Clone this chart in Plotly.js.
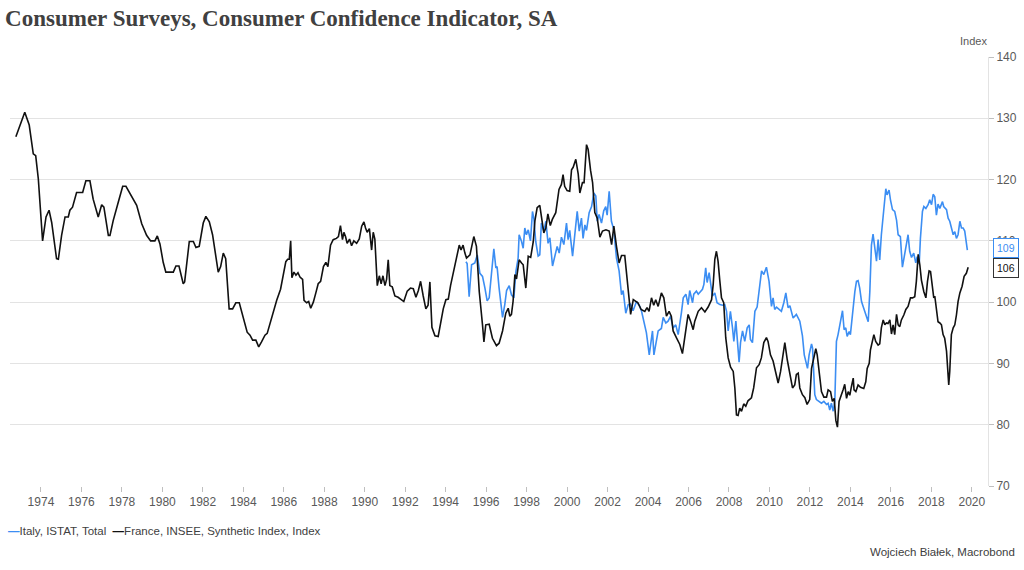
<!DOCTYPE html>
<html>
<head>
<meta charset="utf-8">
<script src="https://cdn.plot.ly/plotly-3.0.1.min.js"></script>
<style>
html,body{margin:0;padding:0;background:#fff;}
#chart{width:1024px;height:570px;}
</style>
</head>
<body>
<div id="chart"></div>
<script>
// France, INSEE, Synthetic Index (decimal years)
const franceYears = [
1972.76,1973.2,1973.42,1973.62,1973.74,1973.87,1974.08,1974.25,1974.4,1974.53,1974.77,1974.86,
1975.02,1975.19,1975.35,1975.43,1975.56,1975.76,1976.06,1976.22,1976.42,1976.58,1976.83,1977.0,
1977.11,1977.33,1977.41,1977.57,1977.82,1978.04,1978.2,1978.4,1978.56,1978.73,1978.98,1979.22,
1979.42,1979.63,1979.75,1979.88,1980.04,1980.17,1980.54,1980.67,1980.82,1981.03,1981.1,1981.33,
1981.53,1981.66,1981.82,1982.02,1982.15,1982.32,1982.48,1982.65,1982.76,1982.88,1983.01,1983.13,
1983.3,1983.47,1983.63,1983.8,1984.0,1984.19,1984.33,1984.46,1984.62,1984.76,1984.9,1985.07,
1985.18,1985.4,1985.65,1985.84,1985.97,1986.1,1986.19,1986.27,1986.34,1986.4,1986.5,1986.6,
1986.7,1986.8,1986.93,1987.0,1987.13,1987.23,1987.33,1987.46,1987.59,1987.7,1987.82,1987.96,
1988.08,1988.18,1988.31,1988.44,1988.6,1988.7,1988.8,1988.9,1988.97,1989.05,1989.13,1989.25,
1989.35,1989.46,1989.6,1989.73,1989.85,1989.96,1990.04,1990.12,1990.23,1990.34,1990.42,1990.5,
1990.62,1990.72,1990.81,1990.9,1991.0,1991.08,1991.16,1991.24,1991.36,1991.49,1991.65,1991.82,
1991.93,1992.1,1992.26,1992.4,1992.53,1992.65,1992.76,1992.89,1993.02,1993.13,1993.22,1993.32,
1993.47,1993.63,1993.75,1993.88,1994.01,1994.13,1994.24,1994.37,1994.54,1994.67,1994.76,1994.86,
1994.95,1995.03,1995.2,1995.39,1995.52,1995.66,1995.82,1995.89,1995.98,1996.15,1996.31,1996.51,
1996.64,1996.81,1996.97,1997.09,1997.17,1997.25,1997.33,1997.42,1997.5,1997.63,1997.75,1997.83,
1997.96,1998.08,1998.2,1998.33,1998.41,1998.52,1998.65,1998.74,1998.85,1998.95,1999.05,1999.17,
1999.27,1999.44,1999.6,1999.72,1999.8,1999.88,2000.0,2000.13,2000.22,2000.3,2000.43,2000.55,
2000.63,2000.76,2000.84,2000.96,2001.04,2001.16,2001.26,2001.37,2001.49,2001.62,2001.75,2001.92,
2002.08,2002.2,2002.31,2002.44,2002.57,2002.69,2002.85,2003.02,2003.14,2003.27,2003.4,2003.5,
2003.66,2003.84,2003.95,2004.05,2004.17,2004.28,2004.38,2004.5,2004.66,2004.78,2004.91,2005.04,
2005.15,2005.24,2005.4,2005.57,2005.7,2005.81,2005.98,2006.1,2006.23,2006.31,2006.48,2006.64,
2006.81,2006.97,2007.14,2007.22,2007.3,2007.38,2007.46,2007.55,2007.63,2007.74,2007.84,2007.96,
2008.08,2008.21,2008.29,2008.37,2008.45,2008.53,2008.62,2008.73,2008.83,2008.94,2009.11,2009.22,
2009.36,2009.49,2009.6,2009.72,2009.85,2009.93,2010.05,2010.18,2010.31,2010.43,2010.55,2010.68,
2010.76,2010.88,2011.0,2011.14,2011.25,2011.33,2011.42,2011.5,2011.63,2011.75,2011.86,2011.99,
2012.08,2012.16,2012.29,2012.36,2012.46,2012.57,2012.69,2012.82,2012.9,2013.02,2013.11,2013.2,
2013.28,2013.36,2013.44,2013.56,2013.64,2013.72,2013.81,2013.89,2013.97,2014.05,2014.14,2014.18,
2014.27,2014.38,2014.5,2014.66,2014.76,2014.83,2014.93,2014.99,2015.09,2015.16,2015.25,2015.37,
2015.45,2015.53,2015.62,2015.7,2015.78,2015.86,2015.95,2016.03,2016.11,2016.19,2016.28,2016.36,
2016.44,2016.52,2016.64,2016.74,2016.85,2016.97,2017.07,2017.18,2017.26,2017.35,2017.43,2017.51,
2017.63,2017.73,2017.81,2017.89,2017.96,2018.05,2018.12,2018.17,2018.25,2018.33,2018.42,2018.5,
2018.58,2018.66,2018.75,2018.8,2018.86,2018.91,2018.99,2019.08,2019.16,2019.24,2019.32,2019.41,
2019.52,2019.62,2019.73,2019.82
];
const franceValues = [
127.0,131.0,128.9,124.2,123.9,120.1,110.0,113.9,115.0,113.0,107.1,107.0,
110.9,113.9,113.9,115.0,115.5,117.9,117.9,119.8,119.8,116.8,113.9,115.9,
115.5,110.9,110.9,113.3,116.3,118.9,118.9,117.7,116.8,115.8,112.8,110.9,
110.0,110.0,110.8,109.5,106.5,104.9,104.9,105.9,105.9,103.0,103.3,109.9,
109.9,108.9,109.1,112.9,114.0,113.1,111.0,107.1,104.9,105.8,108.0,107.1,
98.9,98.9,99.9,99.9,97.5,95.1,94.6,93.8,93.8,92.7,93.5,94.6,
94.9,97.5,100.3,102.1,104.1,106.6,107.0,107.0,110.0,104.0,104.9,104.4,
104.8,104.1,103.7,100.3,99.9,100.1,99.0,100.0,101.6,103.0,103.4,105.8,
106.5,105.8,109.3,110.2,110.4,110.7,112.5,110.2,111.4,110.7,109.6,110.3,
109.2,110.0,109.6,110.3,112.4,113.1,112.1,111.4,112.0,108.5,111.4,110.3,
102.7,104.3,103.0,104.3,102.7,103.7,106.9,102.7,102.5,101.0,100.8,100.3,
100.1,101.8,102.3,102.2,100.8,101.9,103.4,101.0,98.9,99.5,103.3,95.9,
94.5,94.4,96.7,98.9,100.4,100.5,102.7,104.7,107.4,109.3,108.5,109.3,
108.0,107.2,107.7,110.7,109.1,101.7,96.3,93.5,96.3,96.4,94.1,92.9,
93.3,95.3,98.2,99.0,97.7,98.0,100.1,104.5,103.8,106.9,106.4,106.1,
102.3,107.5,107.3,109.9,113.3,115.4,115.8,114.0,111.3,112.1,114.4,112.5,
113.5,114.6,118.4,119.2,120.8,118.9,118.2,118.1,121.6,122.0,123.3,120.9,
117.8,119.5,119.5,125.7,124.9,121.5,119.5,114.6,113.7,110.6,111.6,111.8,
111.6,109.4,112.4,109.1,106.4,107.6,107.6,102.0,98.0,100.4,100.1,99.9,
98.8,98.5,99.1,98.5,100.7,99.5,100.4,99.3,101.5,100.7,97.7,98.5,
97.7,95.3,94.2,93.1,91.6,94.2,98.0,96.9,95.5,96.9,98.5,99.1,
98.4,99.2,100.4,102.9,107.0,108.3,106.7,103.4,100.7,99.9,94.2,90.9,
89.4,88.7,86.0,81.6,81.5,82.7,82.2,83.4,83.0,83.9,84.4,86.0,
89.3,89.8,90.9,93.4,94.2,93.6,91.4,90.4,88.2,86.8,88.7,92.0,
93.4,90.6,88.7,86.0,86.5,88.2,88.4,86.0,84.9,84.4,83.3,84.1,
89.2,90.3,92.4,91.4,88.2,85.4,84.5,84.5,85.7,85.4,83.8,84.3,
80.7,79.6,83.8,85.2,85.7,86.6,84.3,85.4,84.8,86.2,87.6,85.7,
85.4,86.5,86.1,85.9,87.0,89.2,90.0,92.2,93.9,94.7,93.6,93.0,
93.2,95.8,97.1,96.3,96.6,96.5,97.1,94.8,96.3,94.7,98.0,96.3,
96.0,97.1,97.9,98.8,99.3,100.7,100.7,100.9,103.4,107.8,106.1,103.6,
101.7,100.7,103.4,105.1,105.0,102.3,100.7,101.0,99.0,96.8,96.6,96.3,
94.7,94.1,92.0,89.2,86.5,88.7,94.7,95.8,96.3,97.9,100.1,101.5,
102.6,104.2,104.7,105.7
];

// Italy, ISTAT, Total (decimal years)
const italyYears = [
1995.0,1995.06,1995.16,1995.28,1995.44,1995.56,1995.69,1995.82,1995.94,1996.05,1996.15,1996.26,
1996.38,1996.48,1996.54,1996.64,1996.81,1996.92,1997.01,1997.14,1997.25,1997.37,1997.47,1997.58,
1997.63,1997.75,1997.83,1997.91,1997.99,1998.08,1998.19,1998.29,1998.36,1998.45,1998.57,1998.65,
1998.73,1998.85,1998.95,1999.06,1999.15,1999.28,1999.39,1999.51,1999.61,1999.72,1999.84,1999.97,
2000.05,2000.13,2000.27,2000.38,2000.5,2000.6,2000.71,2000.79,2000.88,2000.96,2001.09,2001.21,
2001.32,2001.42,2001.49,2001.58,2001.7,2001.81,2001.91,2001.98,2002.08,2002.19,2002.31,2002.44,
2002.57,2002.69,2002.77,2002.9,2003.02,2003.13,2003.26,2003.43,2003.59,2003.68,2003.79,2003.92,
2004.06,2004.14,2004.22,2004.29,2004.42,2004.5,2004.66,2004.75,2004.88,2004.99,2005.11,2005.24,
2005.37,2005.49,2005.65,2005.74,2005.87,2005.98,2006.06,2006.2,2006.26,2006.39,2006.48,2006.59,
2006.69,2006.76,2006.85,2006.92,2007.02,2007.1,2007.18,2007.3,2007.41,2007.55,2007.68,2007.79,
2007.88,2007.96,2008.07,2008.17,2008.24,2008.34,2008.4,2008.5,2008.57,2008.67,2008.78,2008.9,
2009.0,2009.06,2009.16,2009.28,2009.39,2009.52,2009.61,2009.72,2009.85,2009.98,2010.1,2010.18,
2010.26,2010.35,2010.48,2010.59,2010.71,2010.81,2010.92,2011.01,2011.17,2011.33,2011.5,2011.63,
2011.72,2011.8,2011.88,2011.96,2012.08,2012.13,2012.19,2012.24,2012.32,2012.46,2012.57,2012.69,
2012.82,2012.9,2012.98,2013.06,2013.15,2013.23,2013.31,2013.39,2013.48,2013.56,2013.61,2013.69,
2013.77,2013.84,2013.94,2014.0,2014.1,2014.22,2014.3,2014.38,2014.46,2014.55,2014.63,2014.76,
2014.88,2014.96,2015.04,2015.12,2015.21,2015.29,2015.37,2015.45,2015.53,2015.65,2015.75,2015.81,
2015.91,2015.98,2016.08,2016.19,2016.28,2016.36,2016.47,2016.57,2016.69,2016.77,2016.85,2016.93,
2017.02,2017.13,2017.23,2017.3,2017.4,2017.46,2017.56,2017.63,2017.73,2017.84,2017.92,2018.01,
2018.09,2018.17,2018.25,2018.33,2018.42,2018.55,2018.61,2018.75,2018.83,2018.91,2018.99,2019.08,
2019.16,2019.24,2019.32,2019.41,2019.49,2019.57,2019.65,2019.73,2019.78
];
const italyValues = [
106.6,106.3,100.9,106.1,106.4,107.7,104.7,104.2,102.3,100.2,100.7,104.5,
108.7,105.6,105.8,102.3,97.5,99.6,101.9,102.7,101.2,100.7,105.0,107.2,
111.0,109.9,108.8,112.1,111.0,111.8,110.0,114.8,113.6,109.9,107.5,107.7,
112.9,111.6,113.2,109.6,110.5,105.9,107.5,109.1,108.0,110.6,109.4,112.9,
110.2,111.7,107.5,111.6,114.8,111.6,113.7,110.4,112.6,111.7,114.6,115.6,
117.8,117.3,113.2,114.3,112.9,114.9,115.6,114.2,118.1,113.2,111.8,107.2,
105.1,101.2,101.9,98.2,99.6,99.7,98.6,100.1,99.3,98.5,96.9,95.0,
91.4,93.6,95.3,91.4,93.6,95.3,95.7,97.5,96.6,96.9,97.7,95.8,
96.3,94.7,98.3,100.7,101.3,99.6,101.9,99.9,101.3,101.8,101.3,101.8,
102.1,102.9,105.6,103.2,104.8,102.9,101.0,101.5,99.9,99.6,99.5,99.6,
98.5,95.3,98.5,95.9,93.6,96.9,94.2,90.2,93.4,95.3,93.6,95.8,
96.3,93.9,93.4,98.5,99.2,102.9,105.1,104.5,105.7,103.4,99.3,100.7,
98.8,99.2,98.8,98.5,99.9,101.5,99.1,99.4,97.4,98.0,96.9,94.5,
91.4,90.1,89.2,91.4,93.2,92.5,87.6,84.9,84.1,83.8,83.5,83.8,
83.3,83.5,82.4,83.5,82.2,83.8,93.6,94.7,96.3,97.4,98.6,95.5,
95.8,94.4,95.2,94.7,98.5,101.7,103.4,103.5,102.3,100.1,99.3,97.9,
96.8,101.7,109.3,111.1,108.3,106.7,110.2,106.9,111.0,114.9,118.5,117.5,
118.3,116.7,115.1,114.8,113.4,111.0,110.7,105.7,108.0,109.1,111.0,108.3,
107.3,108.0,106.4,107.4,106.2,110.4,114.8,115.6,115.3,115.9,116.7,115.9,
117.6,117.2,114.2,116.0,115.3,116.4,115.6,115.1,113.7,113.2,112.3,111.0,
111.5,110.4,111.0,113.2,112.1,112.1,111.6,109.9,108.5
];

const seriesNames = ["Italy, ISTAT, Total", "France, INSEE, Synthetic Index, Index"];
const seriesColors = ["#3c8ef3", "#111111"];
const chartTitle = "Consumer Surveys, Consumer Confidence Indicator, SA";
const unitLabel = "Index";
const sourceLabel = "Wojciech Białek, Macrobond";

const traces = [
  {x: italyYears, y: italyValues, type: "scatter", mode: "lines", name: seriesNames[0],
   line: {color: seriesColors[0], width: 1.6}, hoverinfo: "skip"},
  {x: franceYears, y: franceValues, type: "scatter", mode: "lines", name: seriesNames[1],
   line: {color: seriesColors[1], width: 1.6}, hoverinfo: "skip"}
];

const lastIt = italyValues[italyValues.length - 1];
const lastFr = franceValues[franceValues.length - 1];
const axisFont = {family: "Liberation Sans, Arial, sans-serif", size: 12, color: "#595959"};
const narrowFont = "Liberation Sans Narrow, Arial Narrow, Liberation Sans, sans-serif";

const layout = {
  width: 1024, height: 570,
  margin: {l: 10, r: 36, t: 57, b: 84},
  paper_bgcolor: "#ffffff", plot_bgcolor: "#ffffff",
  showlegend: false,
  title: {text: "<b>" + chartTitle + "</b>", x: 0.005, xanchor: "left", y: 0.968, yanchor: "middle",
          font: {family: "Liberation Serif, DejaVu Serif, serif", size: 23, color: "#404040"}},
  xaxis: {
    range: [1972.47, 2020.8], tick0: 1974, dtick: 2, tickformat: "d",
    showgrid: false, zeroline: false, showline: false,
    ticks: "outside", ticklen: 5, tickcolor: "#bfbfbf", tickwidth: 1,
    tickfont: axisFont
  },
  yaxis: {
    side: "right", range: [70, 140], dtick: 10, tick0: 70,
    showgrid: true, gridcolor: "#e3e3e3", gridwidth: 1, zeroline: false,
    showline: true, linecolor: "#e3e3e3", linewidth: 1,
    ticks: "outside", ticklen: 5, tickcolor: "#bfbfbf",
    tickfont: axisFont
  },
  annotations: [
    {xref: "paper", yref: "paper", x: 0.985, y: 1, xanchor: "center", yanchor: "bottom", yshift: 8,
     text: unitLabel, showarrow: false, font: {family: "Liberation Sans, Arial, sans-serif", size: 11, color: "#595959"}},
    {xref: "paper", yref: "paper", x: -0.004, y: -0.105, xanchor: "left", yanchor: "middle",
     showarrow: false,
     text: "<span style='color:" + seriesColors[0] + "'><b>—</b></span>" + seriesNames[0] +
           "  <span style='color:" + seriesColors[1] + "'><b>—</b></span>" + seriesNames[1],
     font: {family: narrowFont, size: 11.5, color: "#404040"}},
    {xref: "paper", yref: "paper", x: 1.03, y: -0.155, xanchor: "right", yanchor: "middle",
     showarrow: false, text: sourceLabel,
     font: {family: narrowFont, size: 11.5, color: "#404040"}},
    {xref: "paper", yref: "y", x: 1, y: lastIt, xanchor: "left", yanchor: "middle", xshift: 5, yshift: 2,
     text: String(Math.round(lastIt)), showarrow: false, bgcolor: "#ffffff",
     bordercolor: seriesColors[0], borderwidth: 1, borderpad: 3,
     font: {family: "Liberation Sans, Arial, sans-serif", size: 10.5, color: seriesColors[0]}},
    {xref: "paper", yref: "y", x: 1, y: lastFr, xanchor: "left", yanchor: "middle", xshift: 5, yshift: -1,
     text: String(Math.round(lastFr)), showarrow: false, bgcolor: "#ffffff",
     bordercolor: "#333333", borderwidth: 1, borderpad: 3,
     font: {family: "Liberation Sans, Arial, sans-serif", size: 10.5, color: "#111111"}}
  ]
};

Plotly.newPlot("chart", traces, layout, {displayModeBar: false, staticPlot: true});
</script>
</body>
</html>
